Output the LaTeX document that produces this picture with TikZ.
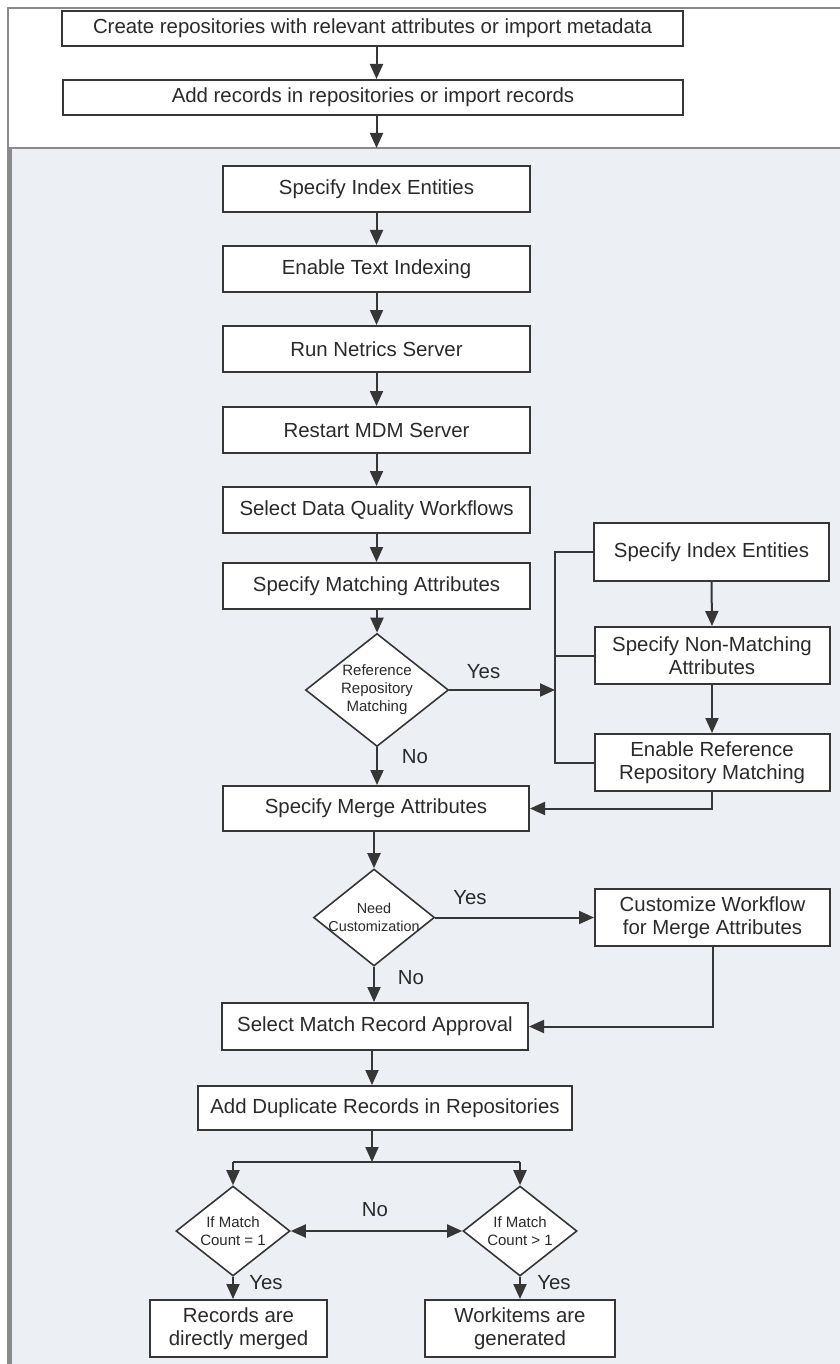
\documentclass[tikz,border=0pt]{standalone}
\usepackage{fontspec}
\setmainfont{Liberation Sans}
\usetikzlibrary{arrows.meta,shapes.geometric}
\definecolor{panel}{HTML}{ECEFF4}
\definecolor{framec}{HTML}{8A8A8A}
\definecolor{linec}{HTML}{363636}
\definecolor{txtc}{HTML}{2A2A2A}
\newcommand\fbig{\fontsize{20.4pt}{23.5pt}\selectfont}
\newcommand\fsmall{\fontsize{15pt}{18pt}\selectfont}
\begin{document}
\begin{tikzpicture}[x=1pt,y=-1pt,
  stepbox/.style={draw=linec, fill=white, line width=2pt, text=txtc, font=\fbig, align=center, inner sep=0pt},
  decision/.style={diamond, draw=linec, fill=white, line width=1.6pt, text=txtc, font=\fsmall, align=center, inner sep=-8pt},
  flow/.style={draw=linec, line width=2pt, -{Triangle[length=15pt,width=13pt]}},
  dflow/.style={draw=linec, line width=2pt, {Triangle[length=15pt,width=13pt]}-{Triangle[length=15pt,width=13pt]}},
  plain/.style={draw=linec, line width=2pt},
  lbl/.style={text=txtc, font=\fbig, inner sep=0pt}]
\useasboundingbox (0,0) rectangle (839,1364);
% background
\fill[white] (0,0) rectangle (839,1364);
\fill[panel] (10,148) rectangle (845,1370);
\draw[framec, line width=2pt] (8,1370) -- (8,8.5) -- (845,8.5);
\draw[framec, line width=2pt] (8,148.5) -- (845,148.5);
\draw[framec, line width=5pt] (9.5,148) -- (9.5,1370);

% top boxes
\node[stepbox, minimum width=621pt, minimum height=35pt] (t1) at (372.5,28.5) {Create repositories with relevant attributes or import metadata};
\node[stepbox, minimum width=620pt, minimum height=35pt] (t2) at (373,97.5) {Add records in repositories or import records};
\coordinate (ptop) at (376.5,148);

% main column
\node[stepbox, minimum width=307pt, minimum height=46pt] (a1) at (376.5,189) {Specify Index Entities};
\node[stepbox, minimum width=307pt, minimum height=46pt] (a2) at (376.5,269) {Enable Text Indexing};
\node[stepbox, minimum width=307pt, minimum height=46pt] (a3) at (376.5,349) {Run Netrics Server};
\node[stepbox, minimum width=307pt, minimum height=46pt] (a4) at (376.5,430) {Restart MDM Server};
\node[stepbox, minimum width=307pt, minimum height=46pt] (a5) at (376.5,510) {Select Data Quality Workflows};
\node[stepbox, minimum width=307pt, minimum height=46pt] (a6) at (376.5,586) {Specify Matching Attributes};
\node[decision, minimum width=143pt, minimum height=113pt] (d1) at (377,690) {Reference\\Repository\\Matching};
\node[stepbox, minimum width=306pt, minimum height=45pt] (a7) at (376,808.5) {Specify Merge Attributes};
\node[decision, minimum width=121pt, minimum height=97pt, font=\fontsize{14.4pt}{17.5pt}\selectfont] (d2) at (374,917.5) {Need\\Customization};
\node[stepbox, minimum width=306pt, minimum height=47pt] (a8) at (375,1026.5) {Select Match Record Approval};
\node[stepbox, minimum width=374pt, minimum height=44pt] (a9) at (385,1108) {Add Duplicate Records in Repositories};
\coordinate (split) at (372,1162);
\node[decision, minimum width=114pt, minimum height=90pt] (d3) at (233,1231) {If Match\\Count = 1};
\node[decision, minimum width=114pt, minimum height=90pt] (d4) at (520,1231) {If Match\\Count > 1};
\node[stepbox, minimum width=177pt, minimum height=57pt] (b1) at (238.5,1328.5) {Records are\\directly merged};
\node[stepbox, minimum width=190pt, minimum height=57pt] (b2) at (520,1328.5) {Workitems are\\generated};

% right column
\node[stepbox, minimum width=235pt, minimum height=58pt] (r1) at (711.5,552) {Specify Index Entities};
\node[stepbox, minimum width=235pt, minimum height=57pt] (r2) at (712,655.5) {Specify Non-Matching\\Attributes};
\node[stepbox, minimum width=235pt, minimum height=57pt] (r3) at (712,762.5) {Enable Reference\\Repository Matching};
\node[stepbox, minimum width=235pt, minimum height=57pt] (c1) at (712.5,917.5) {Customize Workflow\\for Merge Attributes};
\coordinate (brx) at (555,0);

% labels
\node[lbl] (yes1) at (483.6,672) {Yes};
\node[lbl] (no1) at (415,757) {No};
\node[lbl] (yes2) at (470,898) {Yes};
\node[lbl] (no2) at (411,978) {No};
\node[lbl] (no3) at (375,1210) {No};
\node[lbl] (yes3) at (266,1283) {Yes};
\node[lbl] (yes4) at (554,1283) {Yes};

% connectors
\draw[flow] (t1.south -| a1.north) -- (t2.north -| a1.north);
\draw[flow] (t2.south -| a1.north) -- (ptop);
\draw[flow] (a1.south) -- (a2.north);
\draw[flow] (a2.south) -- (a3.north);
\draw[flow] (a3.south) -- (a4.north);
\draw[flow] (a4.south) -- (a5.north);
\draw[flow] (a5.south) -- (a6.north);
\draw[flow] (a6.south -| d1.north) -- (d1.north);
\draw[flow] (d1.south) -- (d1.south |- a7.north);
\draw[flow] (d1.east) -- (d1.east -| brx);
\draw[plain] (r1.west) -- (r1.west -| brx) -- (r3.west -| brx) -- (r3.west);
\draw[plain] (r2.west) -- (r2.west -| brx);
\draw[flow] (r1.south) -- (r2.north);
\draw[flow] (r2.south) -- (r3.north);
\draw[flow] (r3.south) -- (r3.south |- a7.east) -- (a7.east);
\draw[flow] (a7.south -| d2.north) -- (d2.north);
\draw[flow] (d2.east) -- (d2.east -| c1.west);
\draw[flow] (d2.south) -- (d2.south |- a8.north);
\draw[flow] (c1.south) -- (c1.south |- a8.east) -- (a8.east);
\draw[flow] (a8.south -| split) -- (a9.north -| split);
\draw[flow] (a9.south -| split) -- (split);
\draw[plain] (split -| d3.north) -- (split -| d4.north);
\draw[flow] (split -| d3.north) -- (d3.north);
\draw[flow] (split -| d4.north) -- (d4.north);
\draw[dflow] (d3.east) -- (d4.west);
\draw[flow] (d3.south) -- (d3.south |- b1.north);
\draw[flow] (d4.south) -- (d4.south |- b2.north);
\end{tikzpicture}
\end{document}
